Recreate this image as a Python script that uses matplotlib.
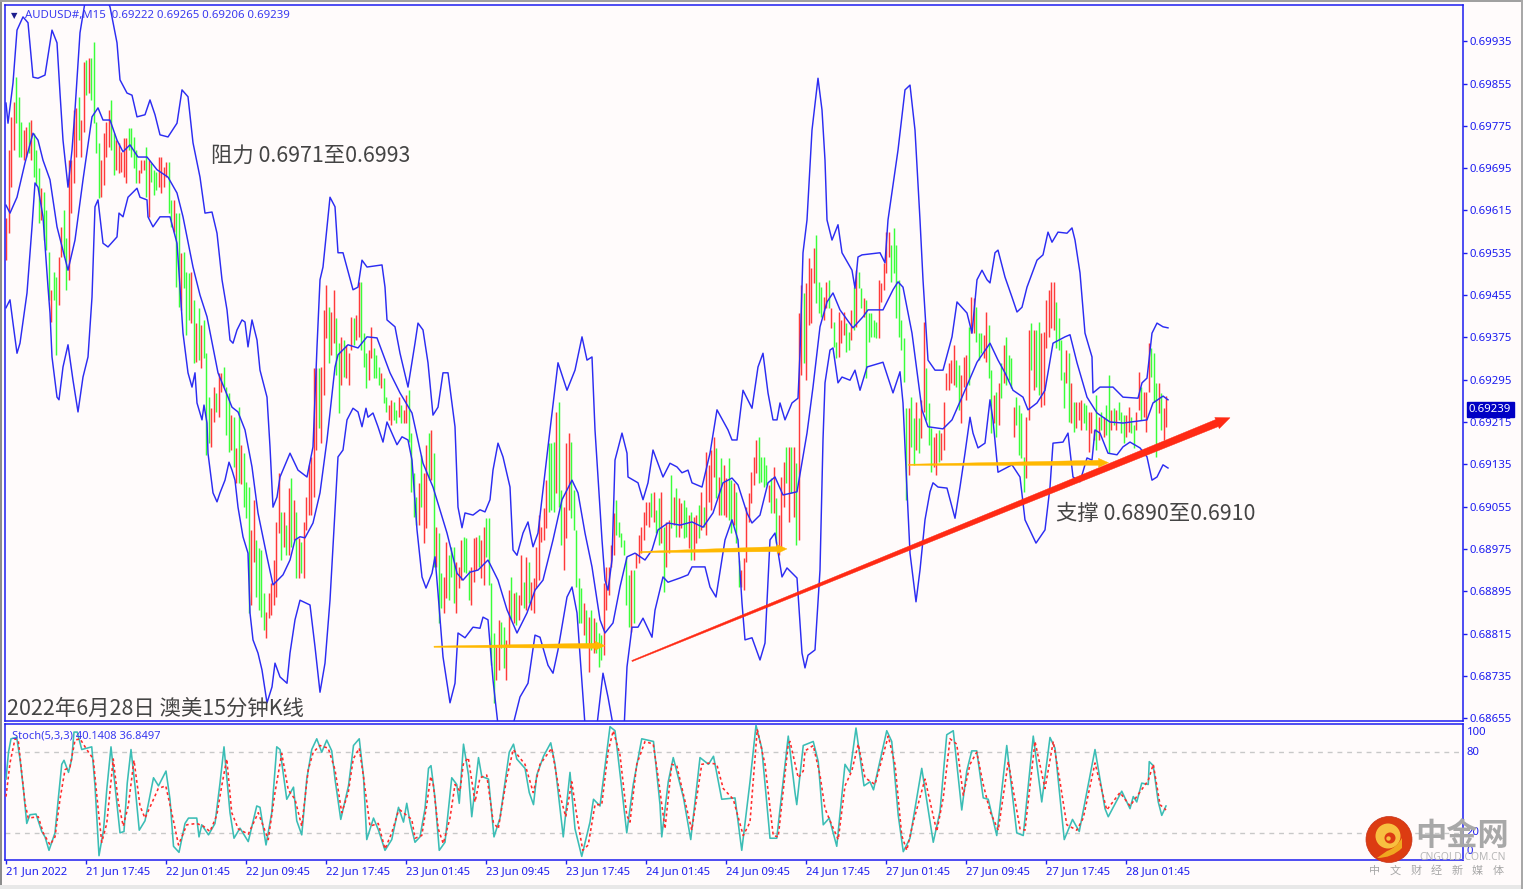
import numpy as np
import matplotlib
matplotlib.use('Agg')
import matplotlib.pyplot as plt
from matplotlib.patches import Polygon, Circle, Rectangle
from matplotlib.path import Path
from matplotlib.patches import PathPatch
from matplotlib.transforms import IdentityTransform

plt.rcParams['font.family'] = ['Noto Sans CJK SC', 'DejaVu Sans']

# all prices below are in 0.00001 above 0.68000
base = 0.68

bar_high = [1601,1729,1792,1820,1867,1830,1782,1767,1773,1782,1786,1761,1729,1695,1657,1650,1616,1536,1465,1499,
1489,1527,1584,1616,1563,1710,1710,1805,1809,1830,1786,1896,1900,1903,1903,1934,1782,1743,1710,1761,
1782,1805,1824,1761,1748,1743,1726,1752,1752,1771,1771,1754,1729,1692,1710,1710,1735,1710,1705,1692,
1688,1716,1716,1697,1707,1707,1635,1635,1610,1610,1535,1536,1499,1497,1499,1446,1402,1431,1398,1408,
1345,1262,1241,1281,1270,1308,1308,1319,1281,1270,1228,1224,1166,1243,1172,1156,1102,1092,1011,1068,
992,977,973,892,856,892,911,954,1026,1119,1045,1045,1020,1090,1109,1068,1045,996,988,1026,
1073,1134,1149,1317,1317,1317,1319,1427,1474,1432,1423,1465,1412,1364,1376,1370,1361,1345,1414,1412,
1417,1480,1480,1383,1345,1351,1395,1355,1342,1319,1308,1298,1262,1247,1257,1253,1238,1262,1247,1238,
1266,1275,1194,1119,1073,1100,1153,1119,1172,1194,1200,1156,1016,1005,929,922,988,963,979,979,
950,941,992,998,996,935,941,996,998,1001,992,1016,1033,1033,911,816,790,841,837,827,
803,897,922,892,894,888,963,912,960,950,912,920,979,1039,1016,1052,1105,1175,1175,1177,
1234,1253,1086,1054,1175,1194,1177,1086,1011,920,901,873,860,846,860,844,837,816,812,911,
941,941,982,1043,1068,1026,1005,992,960,926,935,935,967,1001,1016,1045,1064,1064,1081,1083,
1049,1071,1083,1016,1026,1030,1115,1073,1090,1071,1062,1068,1054,1039,1045,1035,1039,1058,1083,1054,
1158,1134,1162,1187,1166,1111,1147,1134,1109,1147,1105,1100,1083,954,935,958,1054,1081,1120,1149,
1181,1187,1149,1149,1134,1096,1109,1130,1071,1039,1111,1139,1168,1168,1168,1168,1137,1421,1474,1459,
1478,1525,1506,1544,1569,1480,1470,1451,1480,1484,1431,1404,1366,1423,1408,1423,1402,1385,1427,1470,
1502,1499,1468,1449,1446,1421,1421,1408,1404,1484,1478,1516,1574,1574,1550,1582,1550,1484,1408,1374,
1241,1241,1262,1223,1253,1223,1257,1404,1317,1251,1204,1187,1194,1200,1194,1253,1308,1327,1332,1361,
1332,1323,1304,1338,1342,1395,1451,1449,1432,1383,1383,1380,1423,1398,1313,1266,1272,1289,1327,1361,
1376,1342,1336,1243,1262,1247,1232,1149,1224,1389,1402,1389,1389,1404,1383,1385,1446,1465,1480,1480,
1442,1412,1370,1310,1351,1345,1289,1253,1253,1253,1257,1251,1247,1234,1234,1200,1266,1224,1234,1224,
1247,1304,1238,1241,1238,1253,1234,1228,1228,1243,1224,1209,1234,1310,1281,1272,1272,1364,1355,1345,
1289,1289,1270,1241,1265]
bar_low = [1521,1572,1659,1729,1780,1716,1716,1710,1716,1724,1710,1678,1663,1591,1597,1559,1540,1446,1404,1446,
1342,1436,1527,1527,1465,1484,1610,1667,1716,1748,1716,1763,1833,1837,1824,1780,1724,1639,1640,1663,
1716,1735,1729,1682,1692,1686,1688,1678,1667,1729,1716,1695,1667,1667,1686,1692,1640,1603,1669,1644,
1654,1659,1648,1659,1678,1610,1584,1574,1470,1432,1427,1468,1380,1408,1402,1327,1328,1332,1317,1336,
1153,1175,1168,1215,1234,1224,1272,1281,1190,1158,1162,1130,1100,1100,1098,1054,1033,854,869,950,
884,860,846,822,807,844,850,869,884,1005,954,979,963,963,979,992,920,920,929,920,
1011,1039,1039,1073,1162,1204,1175,1266,1374,1327,1342,1364,1304,1232,1285,1300,1298,1285,1351,1361,
1370,1376,1351,1319,1279,1294,1336,1298,1298,1285,1279,1251,1234,1219,1209,1219,1213,1224,1213,1213,
1213,1177,1083,1035,1020,1020,1054,986,1015,1105,1105,941,941,835,863,854,882,878,922,873,
854,901,916,931,929,878,869,912,935,941,920,907,960,907,755,684,727,746,788,750,
727,790,841,835,831,841,869,863,860,873,860,854,901,916,988,992,1015,1045,1049,1045,
1081,1054,982,935,996,1049,1033,1011,903,835,835,812,793,742,784,778,778,752,765,774,
860,888,941,963,1001,998,979,963,869,827,818,835,939,948,967,992,1020,1016,1035,1026,
1005,982,986,894,941,967,1015,1020,998,998,1015,996,998,977,954,954,986,996,1011,1016,
1001,1064,1049,1111,1071,1039,1039,1039,1035,1030,1005,1020,986,903,903,897,950,1026,1062,1096,
1119,1100,1102,1092,1096,1064,1043,1043,986,963,979,1054,1100,1026,1081,1035,982,992,1304,1327,
1294,1398,1402,1478,1440,1421,1414,1408,1431,1431,1393,1357,1336,1338,1364,1380,1347,1351,1370,1389,
1395,1468,1431,1414,1298,1366,1376,1376,1374,1374,1442,1465,1497,1527,1480,1497,1412,1376,1351,1291,
1068,1115,1168,1134,1162,1156,1185,1234,1219,1172,1120,1130,1115,1139,1143,1162,1275,1275,1289,1285,
1281,1238,1213,1281,1257,1285,1383,1383,1366,1332,1345,1336,1328,1298,1194,1213,1187,1209,1260,1289,
1285,1294,1279,1187,1209,1153,1147,1083,1109,1219,1313,1275,1281,1266,1243,1247,1355,1376,1393,1389,
1355,1351,1294,1241,1289,1215,1213,1196,1204,1219,1200,1213,1200,1158,1194,1181,1162,1181,1200,1187,
1190,1156,1200,1209,1200,1219,1194,1175,1187,1196,1194,1166,1200,1238,1219,1224,1196,1272,1300,1253,
1149,1232,1200,1181,1206]
bar_dir = ("rrrrgggrrg" "rgggrgggrg" "grrggrrrrg" "rrgrggggrr" "rrggrrrrrg" "gggrrrgrgg" "grrrrggrgg" "rgggrgrgrg"
"ggrrgrrggg" "rgrgrgggrr" "ggggrrrrrr" "grgrgrgrgr" "rrrrrgrrrg" "rrggrgrrrg" "rrgggrrggg" "rggrrggrgr"
"rggggrgrrg" "rgrggrrggg" "rrrgggrrrg" "rrggggrrgg" "rrgrgrrgrg" "rrrrrrrggg" "rggrrrgggg" "grgrgrgggr"
"rrrrgggggg" "rgrrrrrrgr" "ggrgrrgrgr" "rggrgrrgrg" "rrrrgrgrrg" "grggrrrrrr" "rggggrgrgr" "rrgrgrgrrg"
"rrrrgggrrg" "rggrrrggrg" "rggrgggggr" "rrrrgggggg" "grggrgrrgg" "grrgrrrrrr" "ggrrrgrrgg" "grrggrgrgr"
"gggrggggrr" "grggrrrrrr" "ggggrgrgrr" "rggrrrgrgr" "ggrgrgggrr" "ggrrgrrrgg" "grgrr")

upper_t = [0,0.8,2.8,4.4,6.8,8.8,10.8,12.8,15.6,18.4,20.4,21.6,22.8,24.8,26.4,27.6,29.6,32.4,37.6,41.6,44.4,45.6,48.4,50.4,52.4,55.6,57.6,59.6,61.6,64.8,68.4,70.4,72.8,74.8,77.6,79.6,82.4,84.4,86.4,88.4,89.6,90.8,92.4,94.4,95.6,96.8,98.4,100.4,101.6,104.4,105.6,106.8,108.4,109.6,113.6,116.8,120.4,122.8,124.4,125.6,126.8,129.6,131.6,132.8,134.8,138.8,140.8,142.4,144.4,150.4,151.6,152.4,155.6,157.6,160.8,163.6,164.8,166.8,168.8,170.8,172.8,174.8,176.8,179.6,180.8,182.4,183.6,186.8,189.6,191.6,193.6,194.8,196.8,198.8,201.6,202.8,204.4,206.8,208.8,210.8,212.8,216.8,220.8,224.4,227.6,230.4,232.4,234.4,235.6,238.4,239.6,240.8,242.4,243.6,246.4,248.4,248.8,252.8,254.8,256.8,258.8,262.8,265.6,268.4,270.4,272.8,274.4,278.4,281.6,284.4,288.8,290.4,292.4,294.8,298.4,300.8,302.8,304.8,306.8,308.4,309.6,311.6,314.4,316.8,317.6,318.8,320.4,322.4,324.8,326.4,327.6,328.4,330.4,332.8,334.4,338.4,339.6,340.8,342.4,349.6,351.6,352.8,356.8,359.6,361.6,363.6,365.6,366.8,368.8,371.6,374.8,378.4,380.4,384.4,386.4,388.4,390.4,392.4,393.6,395.6,396.8,399.6,402.4,404.4,406.4,408.4,412.4,414.8,416.8,418.4,420.8,424.4,426.4,427.6,429.6,431.6,434.4,434.8,437.6,442.8,446.8,452.8,454.4,456.4,458.4,460.4,462.8,464.8]
upper_p = [1818,1780,1856,1956,1981,1970,1867,1865,1871,1956,1932,1837,1748,1659,1729,1805,1951,2032,2041,2000,1932,1862,1837,1833,1792,1796,1824,1796,1758,1754,1780,1843,1830,1743,1678,1610,1612,1572,1484,1427,1370,1364,1389,1408,1404,1357,1408,1370,1313,1262,1168,1054,1073,1111,1156,1124,1111,1168,1357,1484,1508,1640,1622,1535,1535,1465,1470,1521,1508,1512,1470,1408,1395,1345,1281,1364,1402,1389,1327,1228,1243,1308,1308,1206,1054,1015,1043,1039,1049,1045,1068,1124,1175,1149,1092,973,963,1005,1026,979,1005,1168,1327,1275,1313,1376,1332,1338,1200,992,916,897,954,1143,1194,1156,1111,1100,1068,1100,1162,1111,1137,1130,1119,1124,1100,1092,1156,1238,1200,1181,1181,1275,1241,1319,1345,1270,1219,1219,1251,1219,1251,1260,1345,1535,1597,1767,1865,1805,1710,1597,1559,1588,1535,1502,1468,1527,1531,1535,1516,1597,1729,1843,1852,1767,1597,1484,1332,1313,1313,1376,1442,1421,1383,1484,1502,1484,1478,1535,1540,1489,1451,1423,1432,1470,1521,1531,1574,1555,1574,1572,1582,1559,1497,1383,1338,1270,1281,1281,1262,1260,1289,1298,1383,1402,1395,1393]

mid_t = [0,1.6,4.4,7.6,10.8,12.8,14.8,17.6,20.4,24.8,27.6,30.8,34.4,36.8,38.8,41.6,44.4,46.8,49.6,52.8,56.4,60.4,64.8,68.4,70.8,74.8,77.6,80.4,84.8,88.8,90.4,92.8,95.6,98.4,100.8,104.4,106.8,110.8,113.6,115.6,117.6,119.6,122.8,125.6,128.4,131.6,132.8,136.8,140.8,144.4,148.4,153.6,157.6,162.4,166.8,170.8,176.4,180.4,182.8,185.6,188.8,192.8,196.8,200.4,204.4,208.4,211.6,214.8,218.8,222.4,226.4,228.8,231.6,234.4,237.6,239.6,242.8,245.6,248.4,251.6,255.6,258.4,260.8,264.8,269.6,274.4,278.8,282.8,286.8,290.4,292.8,296.4,298.4,301.6,304.8,307.6,310.8,316.4,320.4,322.8,325.6,328.4,330.8,333.6,338.8,342.8,344.8,350.8,354.8,356.8,358.8,362.4,366.4,368.8,374.8,378.4,382.4,388.4,393.6,396.8,399.6,402.8,406.8,408.8,412.4,415.6,418.8,423.6,425.6,428.4,432.4,436.4,441.6,446.8,456.4,458.8,462.8,464.8]
mid_p = [1625,1610,1640,1705,1761,1748,1710,1673,1584,1502,1559,1673,1792,1809,1786,1786,1748,1726,1739,1716,1716,1692,1678,1648,1603,1508,1455,1414,1308,1262,1243,1234,1200,1130,1043,960,907,926,954,992,998,996,1024,1081,1181,1319,1342,1361,1355,1376,1374,1308,1270,1232,1137,1092,1005,929,916,931,935,954,916,860,816,854,897,916,992,1068,1105,1081,1005,941,841,816,835,903,960,967,954,973,1011,1024,1020,1026,1016,1043,1100,1109,1096,1043,1024,1039,1100,1111,1077,1083,1194,1281,1395,1442,1459,1427,1393,1414,1427,1427,1465,1480,1470,1383,1238,1206,1202,1219,1262,1328,1364,1332,1308,1275,1262,1238,1251,1275,1364,1376,1380,1327,1262,1232,1215,1213,1219,1251,1264,1257]

lower_t = [0,1.6,2.8,4.4,5.6,7.6,8.4,10.4,11.6,12.8,14.8,16.8,17.6,18.4,20.4,21.2,22.8,24.8,26.8,28.8,30.8,32.8,34.4,35.6,36.8,38.8,40.8,44.4,45.2,46.8,48.8,52.4,53.6,56.4,56.8,58.8,61.6,65.6,68.4,69.6,70.8,72.8,74.4,75.6,76.4,78.4,79.2,80.4,80.8,82.8,84.4,85.6,87.6,89.2,90.4,91.6,92.8,94.8,96.8,97.6,98.8,100.8,102.4,104.4,106.4,107.6,109.6,112.4,113.6,115.6,117.6,121.6,123.6,125.6,127.6,129.6,130.8,132.8,134.8,136.4,138.8,140.8,142.4,144,144.8,146.8,148.8,150.8,152.4,156.4,158.4,160.8,162.4,164.4,166.4,168,170.4,171.6,172.8,174.8,177.6,179.6,180.8,183.6,186.8,189.6,190.8,192.8,194.8,196.8,202.8,205.6,208.8,211.6,213.6,216.8,218.8,220.8,224.4,226.4,228.4,231.6,236.4,238.8,240.8,242.8,247.2,248.4,250.4,252.8,254.8,258.4,259.6,262.8,264.8,269.6,272.8,274.4,279.6,281.6,284,287.6,290.4,292.8,294.4,295.6,298.4,301.6,303.6,305.6,307.6,310.4,312.4,316.4,318.4,319.6,320.8,323.6,325.6,326.8,327.6,329.6,330.8,332.8,334.4,337.6,339.6,341.6,344.4,350.8,354.8,357.6,358.8,360.4,361.6,364,365.6,367.6,369.6,370.8,372.8,376.4,379.6,381.6,383.6,385.6,386.8,388.8,391.6,393.6,394.8,396.8,402.4,405.6,407.6,412,415.6,417.6,418.8,422.8,424.8,426.8,429.6,432.4,434.4,435.6,437.6,440.8,444.4,446.8,449.6,453.6,456.4,458.4,460.4,462.8,464.8]
lower_p = [1431,1446,1402,1345,1364,1432,1459,1584,1667,1659,1603,1470,1421,1338,1262,1257,1319,1361,1294,1234,1300,1338,1451,1622,1635,1553,1546,1565,1610,1603,1640,1657,1640,1635,1603,1584,1603,1603,1553,1470,1383,1308,1281,1308,1251,1219,1247,1213,1156,1081,1064,1081,1105,1139,1124,1105,1054,998,967,854,803,778,746,684,714,759,733,721,778,841,878,869,790,704,759,878,979,1149,1162,1219,1241,1234,1206,1241,1224,1232,1206,1177,1215,1172,1187,1181,1143,1011,922,901,929,960,892,771,684,721,816,807,827,825,846,841,727,642,642,695,721,812,808,755,740,784,884,903,854,642,642,740,695,642,633,752,827,827,844,808,859,922,912,920,926,941,941,903,884,992,1030,992,873,803,807,765,797,992,1005,922,939,920,778,750,774,784,935,1181,1289,1351,1355,1289,1300,1294,1313,1275,1319,1328,1270,1310,1251,1086,967,875,935,1030,1083,1100,1092,1090,1033,1092,1156,1224,1194,1166,1175,1257,1219,1120,1134,1111,1030,986,1011,1092,1175,1177,1194,1111,1102,1147,1143,1200,1194,1156,1153,1168,1177,1166,1149,1105,1111,1134,1128]

# stochastic %K and %D, read at the turning points
k_t = [0,1,2,4.3,5.6,7,8.3,9.6,12,14.3,15.6,17.2,19.6,21,22.3,23.2,25,26.3,27.2,28.5,30.3,34.3,35.6,37.2,39,40.3,42,43.6,45.6,47.2,48.5,50,51.6,53.3,55.6,59,61,64,65.6,67,69.2,71.6,73,76.3,77.2,78.3,81,83.6,85.6,87.2,89.6,91.2,93.6,96.9,100.3,101.6,104,106.3,108.3,109.6,112.3,115,116.3,118.3,120.3,122.3,124.3,126.3,128.3,130.3,131.6,133.9,137,139,141.3,143,144.3,147,149,151.6,154.3,157,159,160.3,161.6,163.6,165.6,167.6,169,170,171.6,173.3,175.6,178.3,180.3,181.3,183,185,186.3,189,190.3,193,195.2,197.6,201.3,203,204.3,207.6,209.3,211,212.3,215,217.9,219.6,222.9,225.6,227.6,230.3,233.6,235,237.6,241.6,243.6,246.3,248.3,250.9,254.3,259,261.6,262.3,264.9,266.9,271,273.9,277.6,281,283,286.3,291.6,294.3,297.6,300,302.3,305.6,308.3,312.9,315.6,316.3,318.9,322.9,324.9,326.9,329.3,332.3,335.6,337.6,340,343.2,345.6,347,352.3,354.3,356.9,358.9,361.6,366.3,370.9,373.6,376.3,378.9,382.3,384.3,386.3,388.3,390.9,392.9,396.3,400.3,404.3,406.9,410.9,414.3,417.6,419.6,423.3,426.6,429.3,435.6,439.6,440.9,446.3,449.6,450.9,452.3,454.3,456.9,457.3,458.9,460.9,462.3,464]
k_v = [60,80,90,91,75,52,27,33.5,34,21,17,7,20,47,71,74,65,75,95,95,82,84,55,3,22,52,84,55,20,21,57,82,55,22,29,61,55,66,45,10,5.5,27,31,31,17,26,18.5,27,57,84,35,16,23.5,13.5,40,39,11,35,84,82,45,54,29,18.5,60,82,90,80,89,81,60,30,55,85,90,62,15,31,22,7,15,39,28,42,28,13,17,38,68,70,46,7,13,61,56,42,86,63,32,76,62,60,17,31,80,86,75,68,50,41,63,77,87,71,17,65,23,2.5,28,45,40,99,96,53,20,56,90,88,41,17,58,76,46,15,76,71,77,45,46,7,58,100,83,16,16,92,50,41,85,88,73,26,31,10,71,65,98,55,58,52,96,88,33,6,16,68,13,36,93,96,37,66,81,81,46,45,18,85,20,18,92,43,91,83,15,30,21,82,38,32,51,38,47,43,57,56,73,70,43,33,40]
d_t = [0,1.6,3.6,4.9,6.3,7.6,8.9,12.9,14.9,17.6,19.6,21.6,23.6,25.6,27.6,29.6,32.3,34.9,36.9,38.3,40.3,42.9,44.9,46.9,48.9,51.2,53.6,55.6,58.3,60.9,63.9,66.3,69,72.3,76.3,78.9,81.6,84.3,86.3,88.3,90.3,92.9,96.9,100.9,102.9,104.9,107.6,110.3,112.9,115.6,118.3,120.9,122.9,125.6,128.9,131.6,134.3,136.9,138.9,141.3,142.9,145.6,148.9,151.6,154.3,156.9,157.6,162.3,163.6,166.3,168.3,169.9,170.9,172.9,174.9,177.6,179.6,181.6,182.9,184.9,187.6,189.6,192.3,194.9,196.9,200.3,202.9,207.6,210.9,213.6,218.3,221.6,223.9,226.3,228.3,230.7,232.9,235.6,238.3,240.9,242.9,245.6,248.3,249.6,252.3,255.6,258.9,260.9,263.6,266.3,268.3,272.3,274.3,278.3,281.6,284.3,286.9,290.9,294.9,297.6,300.5,303.6,306.9,308.9,312.9,313.6,316.9,318.9,319.6,322.9,325.6,327.6,330.3,332.9,335.6,338.3,340.9,343.6,347.6,352.9,355.6,358.3,360.3,362.9,367.6,372.3,374.9,377.6,380.3,382.9,385.6,388.3,390.9,393.6,396.9,400.9,405.6,407.6,411.6,415.6,418.9,421.6,424.3,428.3,430.9,435.6,440.3,445.6,449.6,452.3,456.9,458.9,461.6,464]
d_v = [47,72,90,89,65,42,31,32,20,11,17,45,67,69,89,90,82,75,37,13,27,75,43,25,40,74,40,31,42,53,55,35,11,26,27,25,21,33,55,75,35,23,19,35,25,15,50,79,52,45,25,67,80,85,83,67,35,50,75,83,63,25,27,8,20,36,37,30,16,18,41,62,56,23,12,31,56,51,71,76,43,61,63,28,23,61,82,71,50,71,83,48,32,58,33,7,11,41,41,81,96,78,33,28,71,88,86,61,23,71,70,38,22,71,72,71,53,45,18,28,97,71,18,17,86,88,61,66,81,85,63,38,26,15,55,66,86,61,56,92,71,18,7,28,60,21,46,90,86,48,71,80,56,36,22,73,23,22,88,53,88,58,26,22,31,72,37,50,40,47,59,71,41,37]

price_ticks = [0.68655 + 0.0008 * i for i in range(17)]
date_labels = ['21 Jun 2022', '21 Jun 17:45', '22 Jun 01:45', '22 Jun 09:45', '22 Jun 17:45', '23 Jun 01:45',
               '23 Jun 09:45', '23 Jun 17:45', '24 Jun 01:45', '24 Jun 09:45', '24 Jun 17:45', '27 Jun 01:45',
               '27 Jun 09:45', '27 Jun 17:45', '28 Jun 01:45']
bars_per_label = 32

# drawn trend line and the three flat arrows: (t, price) start, end
red_arrow = [(250.4, 763), (489.6, 1223)]
orange_arrows = [[(171.2, 790), (239.6, 792)], [(253.6, 969), (312.4, 975)], [(361, 1134), (441, 1138)]]

W, H = 1523, 889
blue = '#1c1cf0'
band_col = '#2c2cf2'
bg = '#fffbfb'

fig = plt.figure(figsize=(W / 100, H / 100), dpi=100, facecolor=bg)


def rect(x0, y0, x1, y1):
    return [x0 / W, 1 - y1 / H, (x1 - x0) / W, (y1 - y0) / H]


ax = fig.add_axes(rect(5, 5, 1463, 721), facecolor=bg)
ax2 = fig.add_axes(rect(5, 724, 1463, 860), facecolor=bg)

t = np.arange(len(bar_high))
hi = base + np.array(bar_high) / 1e5
lo = base + np.array(bar_low) / 1e5
cols = ['#ff3a3a' if c == 'r' else '#3aff3a' for c in bar_dir]
ax.vlines(t, lo, hi, colors=cols, lw=1.05, zorder=2)

for bt, bp in [(upper_t, upper_p), (mid_t, mid_p), (lower_t, lower_p)]:
    ax.plot(bt, base + np.array(bp) / 1e5, color=band_col, lw=1.05, zorder=3)

ax.set_xlim(-0.4, 582.8)
ax.set_ylim(base + 649.6 / 1e5, base + 2003.5 / 1e5)
ax.set_xticks([])
ax.yaxis.tick_right()
ax.set_yticks(price_ticks)
ax.set_yticklabels(['%.5f' % p for p in price_ticks])
ax.tick_params(axis='y', length=3, width=1, color=blue, labelcolor=blue, labelsize=8.2, pad=1.8)
for lab in ax.get_yticklabels():
    lab.set_family(['Noto Sans', 'DejaVu Sans'])
for s in ax.spines.values():
    s.set_color(blue)
    s.set_linewidth(1.1)

# current price flag
ax.text(1.0041, 0.69239, '0.69239', transform=ax.get_yaxis_transform(), color='white', fontsize=8.2,
        family=['Noto Sans', 'DejaVu Sans'], va='center', ha='left', clip_on=False, zorder=6,
        bbox=dict(boxstyle='square,pad=0.2', fc='#0000c4', ec='#0000c4'))

ax.text(0.0137, 0.986, 'AUDUSD#,M15  0.69222 0.69265 0.69206 0.69239', transform=ax.transAxes,
        color='#3a3af0', fontsize=8.2, family=['Noto Sans', 'DejaVu Sans'], va='center', ha='left', zorder=5)
ax.text(0.0062, 0.9855, '\u25bc', transform=ax.transAxes, color='#1c1c8c', fontsize=6, family=['DejaVu Sans'],
        va='center', ha='center', zorder=5)

txt = dict(color='#444444', family=['Noto Sans CJK SC', 'DejaVu Sans'], va='center', ha='left', zorder=7)
ax.text(82.1, base + 1718 / 1e5, '阻力 0.6971至0.6993', fontsize=15.4, **txt)
ax.text(420.2, base + 1041 / 1e5, '支撑 0.6890至0.6910', fontsize=15.4, **txt)
ax.text(0.4, base + 672 / 1e5, '2022年6月28日 澳美15分钟K线', fontsize=15.4, **txt)


# tapered arrows, sized in pixels
def arrow_poly(start, end, w0, w1, head_len, head_w, color):
    a = ax.transData.transform((start[0], base + start[1] / 1e5))
    b = ax.transData.transform((end[0], base + end[1] / 1e5))
    d = (b - a) / np.hypot(*(b - a))
    n = np.array([-d[1], d[0]])
    neck = b - d * head_len
    pts = [a + n * w0 / 2, neck + n * w1 / 2, neck + n * head_w / 2, b,
           neck - n * head_w / 2, neck - n * w1 / 2, a - n * w0 / 2]
    p = Polygon(pts, closed=True, fc=color, ec=color, lw=0.3, transform=IdentityTransform(), zorder=5, clip_on=False)
    ax.add_patch(p)


fig.canvas.draw()
arrow_poly(red_arrow[0], red_arrow[1], 1.2, 7.5, 14, 12, '#ff2a14')
for oa in orange_arrows:
    arrow_poly(oa[0], oa[1], 1.2, 5, 10, 9, '#ffb800')

# stochastic panel
ax2.plot(k_t, k_v, color='#3bbdb5', lw=1.15, zorder=3)
ax2.plot(d_t, d_v, color='#ff2a2a', lw=1.15, dashes=(1.8, 1.8), zorder=4)
ax2.axhline(80, color='#c8c8c8', lw=1, dashes=(3.5, 3.5), zorder=1)
ax2.axhline(20, color='#c8c8c8', lw=1, dashes=(3.5, 3.5), zorder=1)
ax2.set_xlim(-0.4, 582.8)
ax2.set_ylim(-0.2, 101)
ax2.yaxis.tick_right()
ax2.set_yticks([])
tick_pos = [i * bars_per_label for i in range(len(date_labels))]
ax2.set_xticks(tick_pos)
ax2.set_xticklabels(date_labels, ha='left', fontsize=8.1, color=blue, family=['Noto Sans', 'DejaVu Sans'])
ax2.tick_params(axis='x', length=3, width=1, color=blue, pad=1.5)
for s in ax2.spines.values():
    s.set_color(blue)
    s.set_linewidth(1.1)
for val, pos in [('100', 95), ('80', 80), ('20', 20), ('0', 6)]:
    ax2.text(1.0024, pos, val, transform=ax2.get_yaxis_transform(), color=blue, fontsize=8.2,
             family=['Noto Sans', 'DejaVu Sans'], va='center', ha='left', clip_on=False)
ax2.text(0.005, 0.915, 'Stoch(5,3,3) 40.1408 36.8497', transform=ax2.transAxes, color='#3a3af0', fontsize=8,
         family=['Noto Sans', 'DejaVu Sans'], va='center', ha='left', zorder=5)

# screenshot edges and the watermark, on a pixel overlay
top = fig.add_axes([0, 0, 1, 1], facecolor='none', zorder=10)
top.set_xlim(0, W)
top.set_ylim(H, 0)
top.axis('off')
top.add_patch(Rectangle((0, 0), 2, H, fc='#8c8c8c', ec='none'))
top.add_patch(Rectangle((0, 0), W, 1.5, fc='#a0a0a0', ec='none'))
top.add_patch(Rectangle((0, 885), W, 4, fc='#e8e8e8', ec='none'))
top.add_patch(Rectangle((1521, 0), 2, H, fc='#a8a8a8', ec='none'))

top.add_patch(Circle((1389, 839.5), 23, fc='#dc3c12', ec='#c8321a', lw=0.5))
top.add_patch(Circle((1388, 836), 12.5, fc='#f8c040', ec='none'))
top.add_patch(Circle((1390, 838), 5.5, fc='#dc3c12', ec='none'))
top.add_patch(Circle((1388.5, 838.5), 2.2, fc='#f8c040', ec='none'))
tail = Path([(1377, 858), (1392, 858), (1402, 848), (1402, 838), (1396, 848), (1387, 851), (1377, 858)],
            [Path.MOVETO, Path.CURVE3, Path.CURVE3, Path.LINETO, Path.CURVE3, Path.CURVE3, Path.CLOSEPOLY])
top.add_patch(PathPatch(tail, fc='#f0a820', ec='none'))
top.text(1462.5, 836, '中金网', color='#a8a8a8', fontsize=22.5, fontweight='bold', ha='center', va='center',
         family=['Noto Sans CJK SC', 'DejaVu Sans'])
top.text(1463, 857, 'CNGOLD.COM.CN', color='#b8b8b8', fontsize=7.4, ha='center', va='center',
         family=['Noto Sans', 'DejaVu Sans'])
for i, ch in enumerate('中文财经新媒体'):
    top.text(1375 + i * 20.5, 871, ch, color='#a8a8a8', fontsize=8, ha='center', va='center',
             family=['Noto Sans CJK SC', 'DejaVu Sans'])

fig.savefig('out.png', dpi=100, facecolor=bg)
